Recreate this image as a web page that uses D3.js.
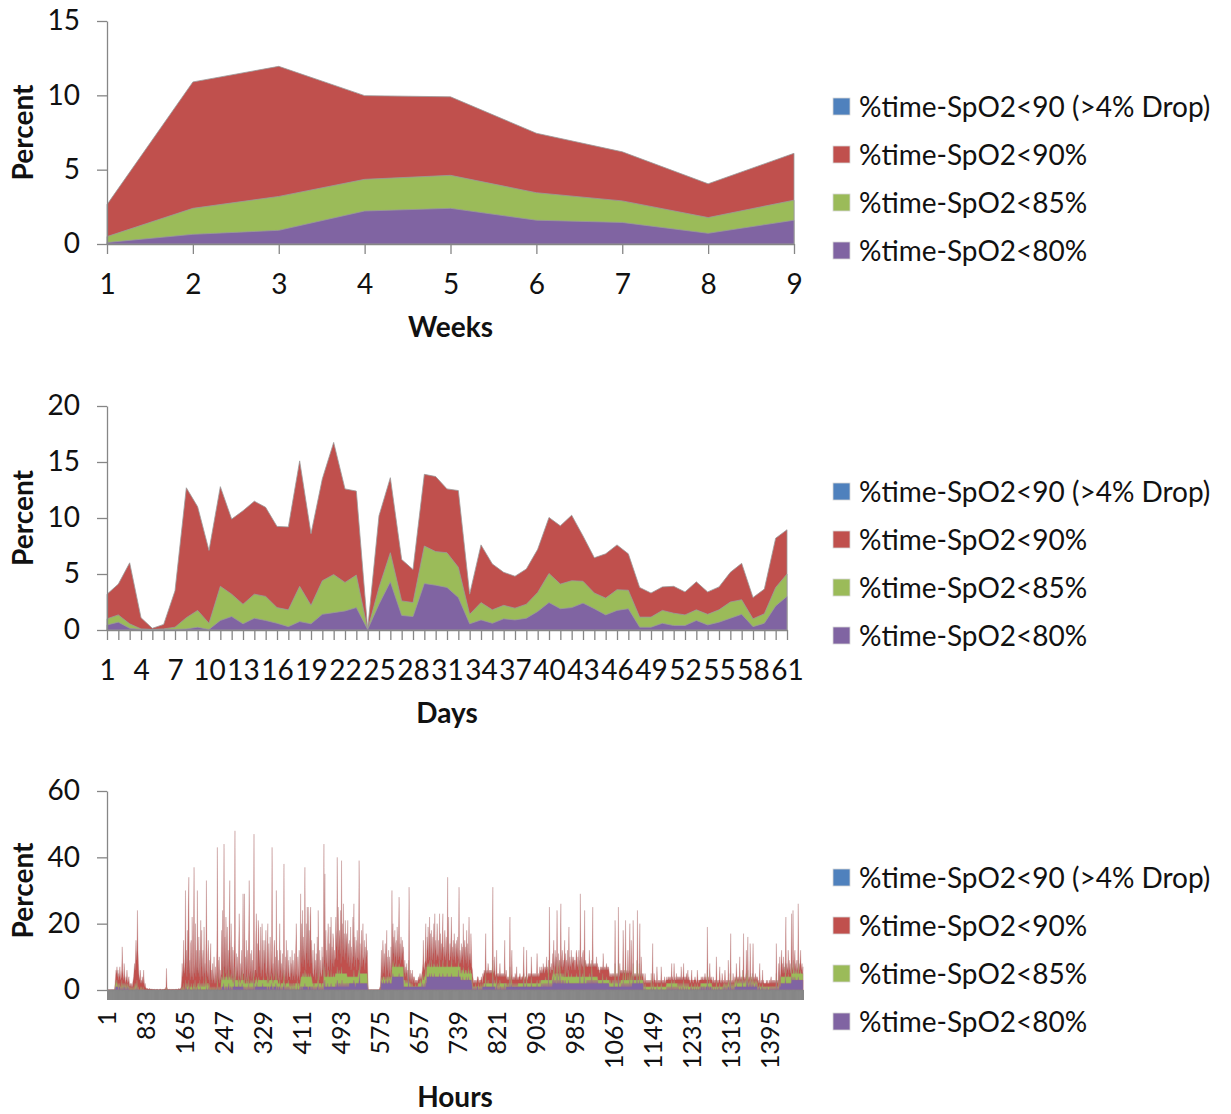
<!DOCTYPE html>
<html>
<head>
<meta charset="utf-8">
<script src="https://cdn.jsdelivr.net/npm/d3@7"></script>
<style>
  html, body { margin: 0; padding: 0; background: #fff; }
  svg { display: block; font-family: Lato, "Open Sans", sans-serif; }
</style>
</head>
<body>
<svg id="chart" width="1231" height="1114"></svg>
<script>
// ---- series definitions ----
const seriesNames = [
  "%time-SpO2<90 (>4% Drop)",
  "%time-SpO2<90%",
  "%time-SpO2<85%",
  "%time-SpO2<80%"
];
const seriesColors = ["#4F81BD", "#C0504D", "#9BBB59", "#8064A2"];

// ---- weekly summary ----
const weeks = [1, 2, 3, 4, 5, 6, 7, 8, 9];
const weekBelow90 = [2.65, 10.9, 11.95, 9.98, 9.9, 7.45, 6.2, 4.05, 6.1];
const weekBelow85 = [0.5, 2.4, 3.2, 4.35, 4.62, 3.45, 2.9, 1.78, 2.95];
const weekBelow80 = [0.1, 0.65, 0.92, 2.22, 2.4, 1.6, 1.45, 0.72, 1.6];

// ---- daily summary ----
const days = d3.range(1, 62);
const dayBelow90 = [3.2, 4.1, 6.0, 1.1, 0.15, 0.5, 3.5, 12.7, 11.0, 7.1,
  12.8, 9.9, 10.65, 11.5, 10.95, 9.25, 9.2, 15.1, 8.6, 13.5,
  16.75, 12.6, 12.4, 0.1, 10.2, 13.6, 6.3, 5.4, 13.9, 13.7,
  12.6, 12.45, 3.2, 7.6, 5.9, 5.15, 4.8, 5.45, 7.2, 10.05,
  9.3, 10.25, 8.4, 6.45, 6.8, 7.6, 6.8, 3.8, 3.3, 3.85,
  3.9, 3.4, 4.3, 3.4, 3.85, 5.15, 5.95, 2.9, 3.65, 8.2, 8.95];
const dayBelow85 = [1.0, 1.35, 0.55, 0.1, 0.05, 0.1, 0.25, 1.1, 1.75, 0.6,
  3.9, 3.2, 2.3, 3.2, 3.0, 2.0, 1.8, 3.9, 2.2, 4.4,
  4.95, 4.25, 4.9, 0.05, 3.8, 6.9, 2.6, 2.45, 7.5, 7.0,
  6.9, 5.6, 1.4, 2.45, 1.8, 2.2, 1.95, 2.3, 3.35, 5.05,
  4.1, 4.4, 4.35, 3.3, 2.85, 3.6, 3.55, 1.15, 1.15, 1.75,
  1.5, 1.35, 1.8, 1.4, 1.8, 2.5, 2.7, 1.0, 1.45, 3.8, 5.0];
const dayBelow80 = [0.45, 0.7, 0.15, 0.05, 0.05, 0.05, 0.05, 0.1, 0.25, 0.05,
  0.85, 1.2, 0.55, 1.05, 0.85, 0.6, 0.3, 0.75, 0.55, 1.4,
  1.55, 1.7, 2.0, 0.05, 2.3, 4.3, 1.3, 1.2, 4.15, 4.0,
  3.8, 2.9, 0.55, 0.9, 0.6, 1.0, 0.9, 1.05, 1.65, 2.45,
  1.9, 2.0, 2.4, 1.9, 1.35, 1.75, 1.9, 0.25, 0.25, 0.6,
  0.4, 0.4, 0.85, 0.45, 0.7, 1.05, 1.4, 0.3, 0.6, 2.15, 3.0];

// ---- hourly values, one row of 24 hours per day ----
const hourBelow90Rows = [
  "0 0 0 0 0 0 0 0 0 0 0 0 0 0 0 0 0 2 4 6 5 7 4 6",
  "3 5 4 7 5 3 4 6 13 6 4 3 8 5 3 2 4 3 6 3 2 3 4 2",
  "1 2 1 2 1 1 2 3 4 6 8 6 10 15 9 12 24 12 8 5 3 4 6 2",
  "3 2 4 3 2 6 3 1 2 1 0.5 0.5 0.3 0.5 0.3 0.2 0.3 0.5 0.2 0.3 0.2 0.3 0.2 0.2",
  "0.2 0.1 0.3 0.1 0.2 0.1 0 0.2 0.1 0.3 0.2 0.1 0 0.1 0.2 0.1 0.3 0.2 0.1 0 0.2 0.1 0.2 0.1",
  "0.2 0.3 0.2 0.5 1 6.5 1 0.3 0.2 0.1 0.2 0.3 0.1 0.2 0.1 0.1 0.2 0.1 0.2 0.3 0.1 0.2 0.1 0.2",
  "0.2 0.1 0.3 0.2 0.1 0.3 0.2 0.5 0.3 0.2 0.4 0.5 1 3 8 4 6 15 7 5 10 30 8 12",
  "4 18 6 25 34 5 9 3 14 15 4 22 6 3 17 37 5 8 20 4 12 6 30 7",
  "5 16 4 12 3 21 7 18 4 9 12 3 19 5 8 3 14 33 6 4 11 15 3 9",
  "2 9 14 3 6 2 8 5 3 10 2 4 7 2 5 12 43 4 9 3 10 2 6 3",
  "5 18 6 24 4 14 44 7 16 5 22 15 4 19 6 12 5 17 33 6 9 20 4 13",
  "4 12 3 9 15 48 5 3 11 4 10 6 3 14 23 4 8 3 6 12 3 9 29 5",
  "5 29 4 10 3 15 6 12 3 7 18 33 4 6 11 3 12 5 9 3 14 47 4 6",
  "6 17 23 5 14 4 21 18 7 12 5 19 4 9 20 6 15 3 12 8 15 5 18 7",
  "4 11 20 5 14 3 9 16 4 7 12 43 5 8 3 13 15 4 10 5 30 3 12 6",
  "3 9 4 20 6 12 3 8 5 11 4 7 38 5 3 10 4 15 6 3 12 5 9 4",
  "4 10 3 8 5 12 3 9 6 4 11 3 7 14 20 5 3 10 4 8 12 3 6 29",
  "8 20 10 24 7 16 12 9 37 14 6 20 11 25 8 25 9 18 7 22 25 8 15 10",
  "5 12 4 5 14 6 9 3 11 5 16 4 24 7 3 12 5 9 4 5 13 6 10 4",
  "44 9 35 6 18 8 12 5 15 20 7 14 6 19 9 22 6 13 8 17 15 7 12 9",
  "10 22 13 18 40 9 25 12 16 18 11 24 8 39 14 20 10 26 12 17 9 21 11 15",
  "17 8 21 10 14 7 15 9 19 6 13 11 8 22 10 26 7 16 9 12 15 6 18 10",
  "9 16 39 8 14 6 12 18 7 11 20 9 10 15 6 13 8 17 10 12 6 0 0 0",
  "0 0 0 0 0 0 0 0 0 0 0 0 0 0 0 0 0 0 0 0 0 0.5 1 0.8",
  "6 12 4 9 15 10 5 11 7 14 4 9 18 6 10 3 12 5 10 8 4 13 6 30",
  "9 20 11 16 8 18 10 14 15 7 19 12 9 17 28 10 14 8 16 12 9 15 11 13",
  "8 5 9 4 7 5 8 3 6 4 7 31 5 3 6 2 5 3 6 2 4 3 4 2",
  "3 2 3 2 3 2 3 4 3 4 5 4 3 4 5 6 8 15 7 6 8 9 20 10",
  "8 16 12 19 9 14 22 10 17 8 18 13 9 16 11 20 8 23 12 15 9 14 20 11",
  "10 15 8 23 12 17 9 14 11 16 23 8 13 10 18 15 9 12 16 8 34 11 22 9",
  "9 14 10 16 22 8 13 11 15 9 17 10 14 8 12 15 10 16 9 13 31 8 12 10",
  "8 14 9 13 10 20 7 12 15 9 13 8 18 10 14 7 12 22 9 11 8 17 12 7",
  "6 4 3 2 3 2 3 2 3 2 3 4 4 3 2 3 2 3 3 4 3 2 5 4",
  "5 6 5 6 17 6 5 6 5 8 6 5 6 5 6 5 6 5 7 31 6 5 6 10",
  "5 4 5 12 4 5 4 5 4 5 8 4 5 4 5 4 5 4 5 4 15 5 4 6",
  "4 3 4 3 4 3 5 22 4 3 5 12 4 3 4 3 4 3 5 4 3 7 4 3",
  "4 3 4 4 5 4 3 4 3 4 4 5 13 4 3 4 4 3 12 4 3 4 5 4",
  "5 4 5 4 10 5 4 5 4 5 4 5 4 5 4 5 11 5 4 5 4 5 7 5",
  "6 5 7 6 5 8 6 7 5 6 7 6 10 6 7 5 6 7 25 6 7 5 8 6",
  "6 11 7 15 9 5 12 7 10 6 24 8 5 11 7 9 6 10 26 7 10 12 6 9",
  "7 10 15 6 11 8 9 5 12 7 9 19 6 10 8 7 12 6 10 8 9 10 6 9",
  "9 6 11 12 8 7 10 6 12 7 9 29 6 10 8 7 11 12 6 9 24 7 9 8",
  "7 8 7 7 8 7 12 7 8 7 7 8 7 25 7 8 7 8 7 8 7 10 7 8",
  "6 7 6 6 5 7 6 7 6 7 6 11 6 7 6 7 6 7 8 6 7 6 7 6",
  "5 4 5 4 4 5 4 5 4 5 4 5 21 5 4 5 4 5 4 25 5 4 8 5",
  "6 5 6 5 6 18 6 5 6 5 21 6 5 6 5 12 6 5 6 20 6 5 15 6",
  "4 5 21 4 5 4 5 4 5 4 5 24 4 5 4 5 20 4 5 10 4 5 4 5",
  "3 2 3 5 3 2 3 2 3 2 3 2 3 2 3 2 3 2 3 14 3 2 5 3",
  "3 2 3 2 7 3 2 3 2 3 2 3 2 7 3 2 3 2 3 2 4 3 2 3",
  "3 4 3 3 4 3 4 3 3 4 3 8 3 4 3 3 8 3 4 3 3 5 3 4",
  "3 4 3 4 3 4 3 7 3 4 3 4 8 3 4 3 4 3 5 4 3 6 3 4",
  "3 3 2 3 3 6 3 3 2 3 3 3 4 3 3 2 3 6 3 3 2 3 3 3",
  "3 4 3 3 4 3 3 4 3 5 3 4 3 3 19 3 4 3 3 8 4 3 4 3",
  "3 2 4 3 2 3 2 3 3 10 3 2 3 2 3 3 7 3 2 3 2 5 3 2",
  "3 2 3 6 3 2 3 2 3 2 9 3 2 3 2 17 3 2 3 2 5 3 2 3",
  "4 3 4 8 4 3 4 3 4 3 10 4 3 4 3 4 3 4 17 4 3 4 3 5",
  "12 4 3 16 4 3 4 3 14 4 3 4 3 4 14 3 4 3 4 5 3 4 3 4",
  "3 2 3 2 8 3 2 2 3 2 6 2 3 2 2 2 2 2 3 2 2 3 2 2",
  "2 3 2 3 4 2 3 2 3 2 3 2 3 2 3 14 3 2 3 2 8 3 10 3",
  "5 9 12 6 8 5 10 6 7 5 9 22 5 8 6 7 12 5 9 6 8 5 7 23",
  "7 6 24 8 5 9 12 6 8 5 9 6 7 26 5 8 6 9 12 6 7 8 5 7"
];
// single-digit hourly percentages, 24 characters per day
const hourBelow85Rows = [
  "000000000000000001232312", "121211131212121211212111", "010101001012121310100001",
  "100010000000000000000000", "000000000000000000000000", "000001000000000000000000",
  "000000000000010102001302", "112131011211012113101121", "221312121213121242122212",
  "010100101010010150100100", "344347343444534374434534", "323427333333243323336333",
  "252224223252223232326222", "334323343333333334333333", "325323333353323333363333",
  "222421222223622122222322", "121212122121222231222123", "444545446544544454445443",
  "222122222223622222212222", "847444445644444644445444", "555575556555575555555555",
  "544444444444444644444444", "565855555555555555553000", "000000000000000000000000",
  "343344434344344344434447", "798777787777778777777777", "333232332393222121211111",
  "121111222233223453344574", "778787977797777878777787", "777977777797777777797777",
  "777797777777777777797777", "565667655665655675566555", "211111121111121111211121",
  "222262222322222222292223", "222421221232222222222222", "212122272242212121212121",
  "222222222222522222522222", "222242222222222232222232", "333333333343333393333333",
  "545755455595554595554545", "444744444464444454444444", "444544444494444454494444",
  "444444544449444444444444", "333333333353333333433333", "323222323232823232292232",
  "333336333383333533363353", "338333333393333833353333", "111211111111111151112111",
  "111112111111121111111111", "222222222223222232222222", "121212121212312121212121",
  "111112111111211112111111", "222222222222226222232222", "111111111311111121111111",
  "212212121232125212121212", "323422323242323262323233", "523622323523252322323232",
  "111121111121111111111111", "111111111111111511113141", "444444444484444454444448",
  "555955656565595555655555"
];
const hourBelow80Rows = [
  "000000000000000000111111", "011101010101110101011010", "000000000000010100000000",
  "000000000000000000000000", "000000000000000000000000", "000000000000000000000000",
  "000000000000000000000101", "000010000000000100000010", "000010000000000001000010",
  "000000000000000010000000", "101112101101101121011010", "111131111111121111112111",
  "010100101020101010101301", "111211111111111211111111", "101111011121101111121011",
  "101110101011201010101101", "000100010001000010000101", "110111112111111011111011",
  "101010101011201010101010", "313111112111111211111111", "121232121221213121212121",
  "221212222222222322122222", "223522222222222222221000", "000000000000000000000000",
  "232223222232322232322224", "454444444444445444444444", "111111111161111111111111",
  "111111111111112121112132", "444444544454444454444444", "444544444454444444454444",
  "444454444444444444464444", "333343333334333343333332", "101010101011100101010111",
  "111121111111111111141111", "101201010101101010102101", "111111131121111111111111",
  "111111111111311111211111", "111121111111111121111111", "121121212121212141212121",
  "232423232252323252322323", "222322222232222222222222", "222222222252222222242222",
  "232323232325232323232323", "222222222232222222222222", "111111111131111111151111",
  "121213121212121212131212", "224222222242222322222222", "000100000000000010000100",
  "000010000000010000000000", "010101010102010101010101", "010001000100100010001000",
  "000101000100010001000100", "111011101101113011101110", "010001000100010010000100",
  "101101010111013101010101", "111211111111111131111111", "312311213121121211121121",
  "010110001101000100101000", "010101010101010301010121", "222222222242222222222224",
  "334333433333343333333333"
];

const hourBelow90 = hourBelow90Rows.flatMap(r => r.split(" ").map(Number));
const hourBelow85 = hourBelow85Rows.flatMap(r => r.split("").map(Number));
const hourBelow80 = hourBelow80Rows.flatMap(r => r.split("").map(Number));
const hours = d3.range(1, hourBelow90.length + 1);

// ---- drawing ----
const svg = d3.select("#chart");
const AXIS = "#868686";
const INK = "#111";

function panel(cfg) {
  const g = svg.append("g");
  const x = d3.scalePoint().domain(cfg.cats).range([cfg.left, cfg.right]);
  const y = d3.scaleLinear().domain([0, cfg.yMax]).range([cfg.bottom, cfg.top]);

  // overlapping area layers: <90%, <85%, <80% (front)
  const layers = [
    { values: cfg.s90, color: seriesColors[1] },
    { values: cfg.s85, color: seriesColors[2] },
    { values: cfg.s80, color: seriesColors[3] }
  ];
  const area = d3.area()
    .x((d, i) => x(cfg.cats[i]))
    .y0(y(0))
    .y1(d => y(d));
  layers.forEach(l => {
    g.append("path")
      .attr("d", area(l.values))
      .attr("fill", l.color)
      .attr("stroke", cfg.edge)
      .attr("stroke-width", cfg.edgeWidth)
      .attr("stroke-linejoin", "round");
  });

  // y axis
  const yAxis = g.append("g")
    .attr("transform", `translate(${cfg.left},0)`)
    .call(d3.axisLeft(y).tickValues(d3.range(0, cfg.yMax + 1, cfg.yStep))
      .tickSize(10).tickSizeOuter(0).tickPadding(17));
  yAxis.select(".domain").attr("stroke", AXIS).attr("stroke-width", 1.3);
  yAxis.selectAll(".tick line").attr("stroke", AXIS).attr("stroke-width", 1.3);
  yAxis.selectAll("text").attr("font-size", 28).attr("fill", INK)
    .attr("font-family", "Lato");

  // x axis
  const xAxis = g.append("g")
    .attr("transform", `translate(0,${cfg.bottom})`)
    .call(d3.axisBottom(x).tickSize(10).tickSizeOuter(0).tickPadding(20)
      .tickFormat((d, i) => (i % cfg.labelEvery === 0 ? d : "")));
  xAxis.select(".domain").attr("stroke", AXIS).attr("stroke-width", 1.3);
  xAxis.selectAll(".tick line").attr("stroke", AXIS).attr("stroke-width", cfg.tickWidth);
  xAxis.selectAll("text").attr("font-size", 28).attr("fill", INK)
    .attr("font-family", "Lato");
  if (cfg.rotate) {
    xAxis.selectAll("text")
      .attr("font-size", 25)
      .attr("text-anchor", "end")
      .attr("dy", "0.35em")
      .attr("y", 0)
      .attr("transform", "translate(0,21) rotate(-90)");
  }

  // axis titles
  g.append("text")
    .attr("transform", `translate(${cfg.left - 84},${(cfg.top + cfg.bottom) / 2}) rotate(-90)`)
    .attr("text-anchor", "middle").attr("dy", "0.35em")
    .attr("font-size", 28).attr("font-weight", "bold").attr("fill", INK)
    .text("Percent");
  g.append("text")
    .attr("x", (cfg.left + cfg.right) / 2).attr("y", cfg.titleY)
    .attr("text-anchor", "middle").attr("dy", "0.35em")
    .attr("font-size", 28).attr("font-weight", "bold").attr("fill", INK)
    .text(cfg.xTitle);

  // legend
  const lg = g.append("g").attr("transform", `translate(833,${cfg.legendY})`);
  seriesNames.forEach((name, i) => {
    const row = lg.append("g").attr("transform", `translate(0,${i * 48})`);
    row.append("rect").attr("x", 0).attr("y", -9).attr("width", 17).attr("height", 17)
      .attr("fill", seriesColors[i]).attr("stroke", "#d8d8d8").attr("stroke-width", 0.8);
    row.append("text").attr("x", 26).attr("y", 0).attr("dy", "0.35em")
      .attr("font-size", 28).attr("fill", INK).text(name);
  });
}

panel({
  cats: weeks, s90: weekBelow90, s85: weekBelow85, s80: weekBelow80,
  left: 107, right: 794, top: 21, bottom: 244, yMax: 15, yStep: 5,
  labelEvery: 1, xTitle: "Weeks", titleY: 327, legendY: 107,
  edge: "#9a9a9a", edgeWidth: 0.8, tickWidth: 1.3
});
panel({
  cats: days, s90: dayBelow90, s85: dayBelow85, s80: dayBelow80,
  left: 107, right: 787, top: 406, bottom: 630, yMax: 20, yStep: 5,
  labelEvery: 3, xTitle: "Days", titleY: 713, legendY: 492,
  edge: "#9a9a9a", edgeWidth: 0.8, tickWidth: 1.3
});
panel({
  cats: hours, s90: hourBelow90, s85: hourBelow85, s80: hourBelow80,
  left: 107, right: 803, top: 791, bottom: 990, yMax: 60, yStep: 20,
  labelEvery: 82, xTitle: "Hours", titleY: 1097, legendY: 878, rotate: true,
  edge: "#b07878", edgeWidth: 0.35, tickWidth: 1
});
</script>
</body>
</html>
